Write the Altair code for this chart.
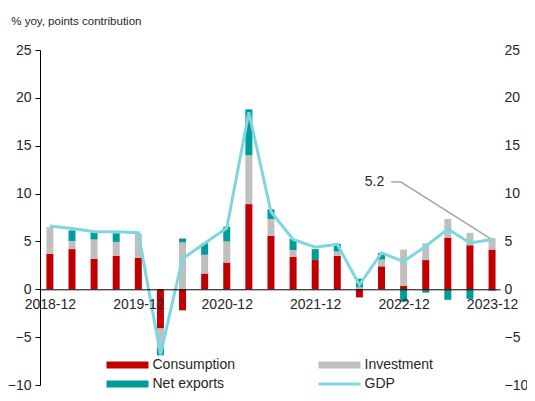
import json
import altair as alt
import pandas as pd

quarters = ["2018-12", "2019-03", "2019-06", "2019-09", "2019-12", "2020-03", "2020-06",
            "2020-09", "2020-12", "2021-03", "2021-06", "2021-09", "2021-12", "2022-03",
            "2022-06", "2022-09", "2022-12", "2023-03", "2023-06", "2023-09", "2023-12"]
consumption = [3.7, 4.2, 3.2, 3.5, 3.3, -4.1, -2.2, 1.65, 2.8, 8.9, 5.6, 3.4, 3.05, 3.5,
               -0.85, 2.4, 0.35, 3.05, 5.4, 4.6, 4.15]
investment = [2.8, 0.85, 2.0, 1.45, 2.55, -2.0, 4.9, 1.95, 2.2, 5.1, 1.75, 0.7, 0.0, 0.45,
              0.2, 0.7, 3.8, 1.75, 1.95, 1.3, 1.2]
net_exports = [0.0, 1.1, 0.85, 0.9, 0.0, -0.8, 0.4, 1.2, 1.55, 4.8, 1.0, 1.15, 1.15, 0.8,
               0.9, 0.7, -1.3, -0.35, -1.1, -1.0, -0.15]
gdp = [6.6, 6.35, 6.0, 6.0, 5.9, -6.8, 3.2, 4.8, 6.4, 18.5, 8.1, 5.2, 4.4, 4.7,
       0.45, 3.8, 2.9, 4.5, 6.3, 4.85, 5.2]

components = ["Consumption", "Investment", "Net exports"]
series_names = ["Consumption", "Investment", "Net exports", "GDP"]
series_colors = ["#C00000", "#BFBFBF", "#009B9B", "#7ED6E0"]
tick_index = [0, 4, 8, 12, 16, 20]
y_ticks = [-10, -5, 0, 5, 10, 15, 20, 25]
y_domain = [-10, 25]
title_text = "% yoy, points contribution"

# leader line for the last GDP value annotation (quarter index, value)
leader_idx = [20, 15.88, 15.44]
leader_val = [5.2, 11.2, 11.2]

rows = []
for i, q in enumerate(quarters):
    for k, (name, vals) in enumerate(zip(components, [consumption, investment, net_exports])):
        rows.append({"idx": i, "quarter": q, "series": name, "order": k, "value": vals[i]})
bars_df = pd.DataFrame(rows)
line_df = pd.DataFrame({"idx": list(range(len(quarters))), "quarter": quarters, "gdp": gdp})
leader_df = pd.DataFrame({"idx": leader_idx, "val": leader_val, "o": [0, 1, 2]})
label_df = pd.DataFrame({"idx": [leader_idx[-1]], "val": [leader_val[-1]],
                         "text": [f"{gdp[-1]:.1f}"]})

FONT = "Liberation Sans"
TXT = "#262626"
W, H = 460, 335

label_expr = json.dumps(quarters) + "[datum.value]"
xscale = alt.Scale(domain=[-0.221, 20.133], nice=False, zero=False)
xaxis = alt.Axis(values=tick_index, labelExpr=label_expr, title=None, ticks=False,
                 domainColor="#000000", domainWidth=1, offset=-H * 10 / 35, labelPadding=8,
                 labelFontSize=14, labelColor=TXT, labelFont=FONT, grid=False, zindex=2,
                 labelFlush=False)
x_enc = alt.X("idx:Q", scale=xscale, axis=xaxis)
yscale = alt.Scale(domain=y_domain, nice=False, zero=False)

sym_expr = ("datum.value === 'GDP' ? 'M-6,-0.4H6V0.4H-6Z' : 'M-6,-1H6V1H-6Z'")

bars = alt.Chart(bars_df).mark_bar(size=7).encode(
    x=x_enc,
    y=alt.Y("value:Q", stack="zero", scale=yscale,
            axis=alt.Axis(values=y_ticks, title=None, grid=False, domainColor="#000000",
                          tickColor="#000000", tickSize=5, labelFontSize=14,
                          labelColor=TXT, labelFont=FONT, labelPadding=4)),
    color=alt.Color("series:N", scale=alt.Scale(domain=series_names, range=series_colors),
                    legend=alt.Legend(orient="none", legendX=63, legendY=308, columns=2,
                                      direction="horizontal",
                                      title=None, symbolType={"expr": sym_expr},
                                      symbolSize=49, symbolOffset=17.5, labelOffset=18,
                                      columnPadding=80, rowPadding=5,
                                      labelFontSize=14, labelColor=TXT, labelFont=FONT,
                                      symbolStrokeWidth=0)),
    order=alt.Order("order:Q"),
)

line = alt.Chart(line_df).mark_line(strokeWidth=3, color=series_colors[3]).encode(
    x=x_enc,
    y=alt.Y("gdp:Q", scale=yscale,
            axis=alt.Axis(orient="right", values=y_ticks, title=None, grid=False,
                          domain=False, ticks=False, labelFontSize=14, labelColor=TXT,
                          labelFont=FONT, labelPadding=4, labelAlign="left")),
)

leader = alt.Chart(leader_df).mark_line(strokeWidth=1.5, color="#A6A6A6").encode(
    x=x_enc,
    y=alt.Y("val:Q", scale=yscale, axis=None),
    order="o:Q",
)

label = alt.Chart(label_df).mark_text(align="right", baseline="middle", dx=-7,
                                      fontSize=14, font=FONT, color=TXT).encode(
    x=x_enc,
    y=alt.Y("val:Q", scale=yscale, axis=None),
    text="text:N",
)

chart = alt.layer(bars, leader, line, label).resolve_scale(y="independent").properties(
    width=W, height=H,
    title=alt.TitleParams(title_text, anchor="start", fontSize=11.5, font=FONT, color=TXT,
                          fontWeight="normal", dy=-12, dx=4),
    autosize=alt.AutoSizeParams(type="none"),
    padding={"left": 32, "top": 42, "right": 27, "bottom": 8},
).configure_view(stroke=None).configure_axisX(zindex=2)

chart.save("out.html", embed_options={"renderer": "svg", "actions": False})
